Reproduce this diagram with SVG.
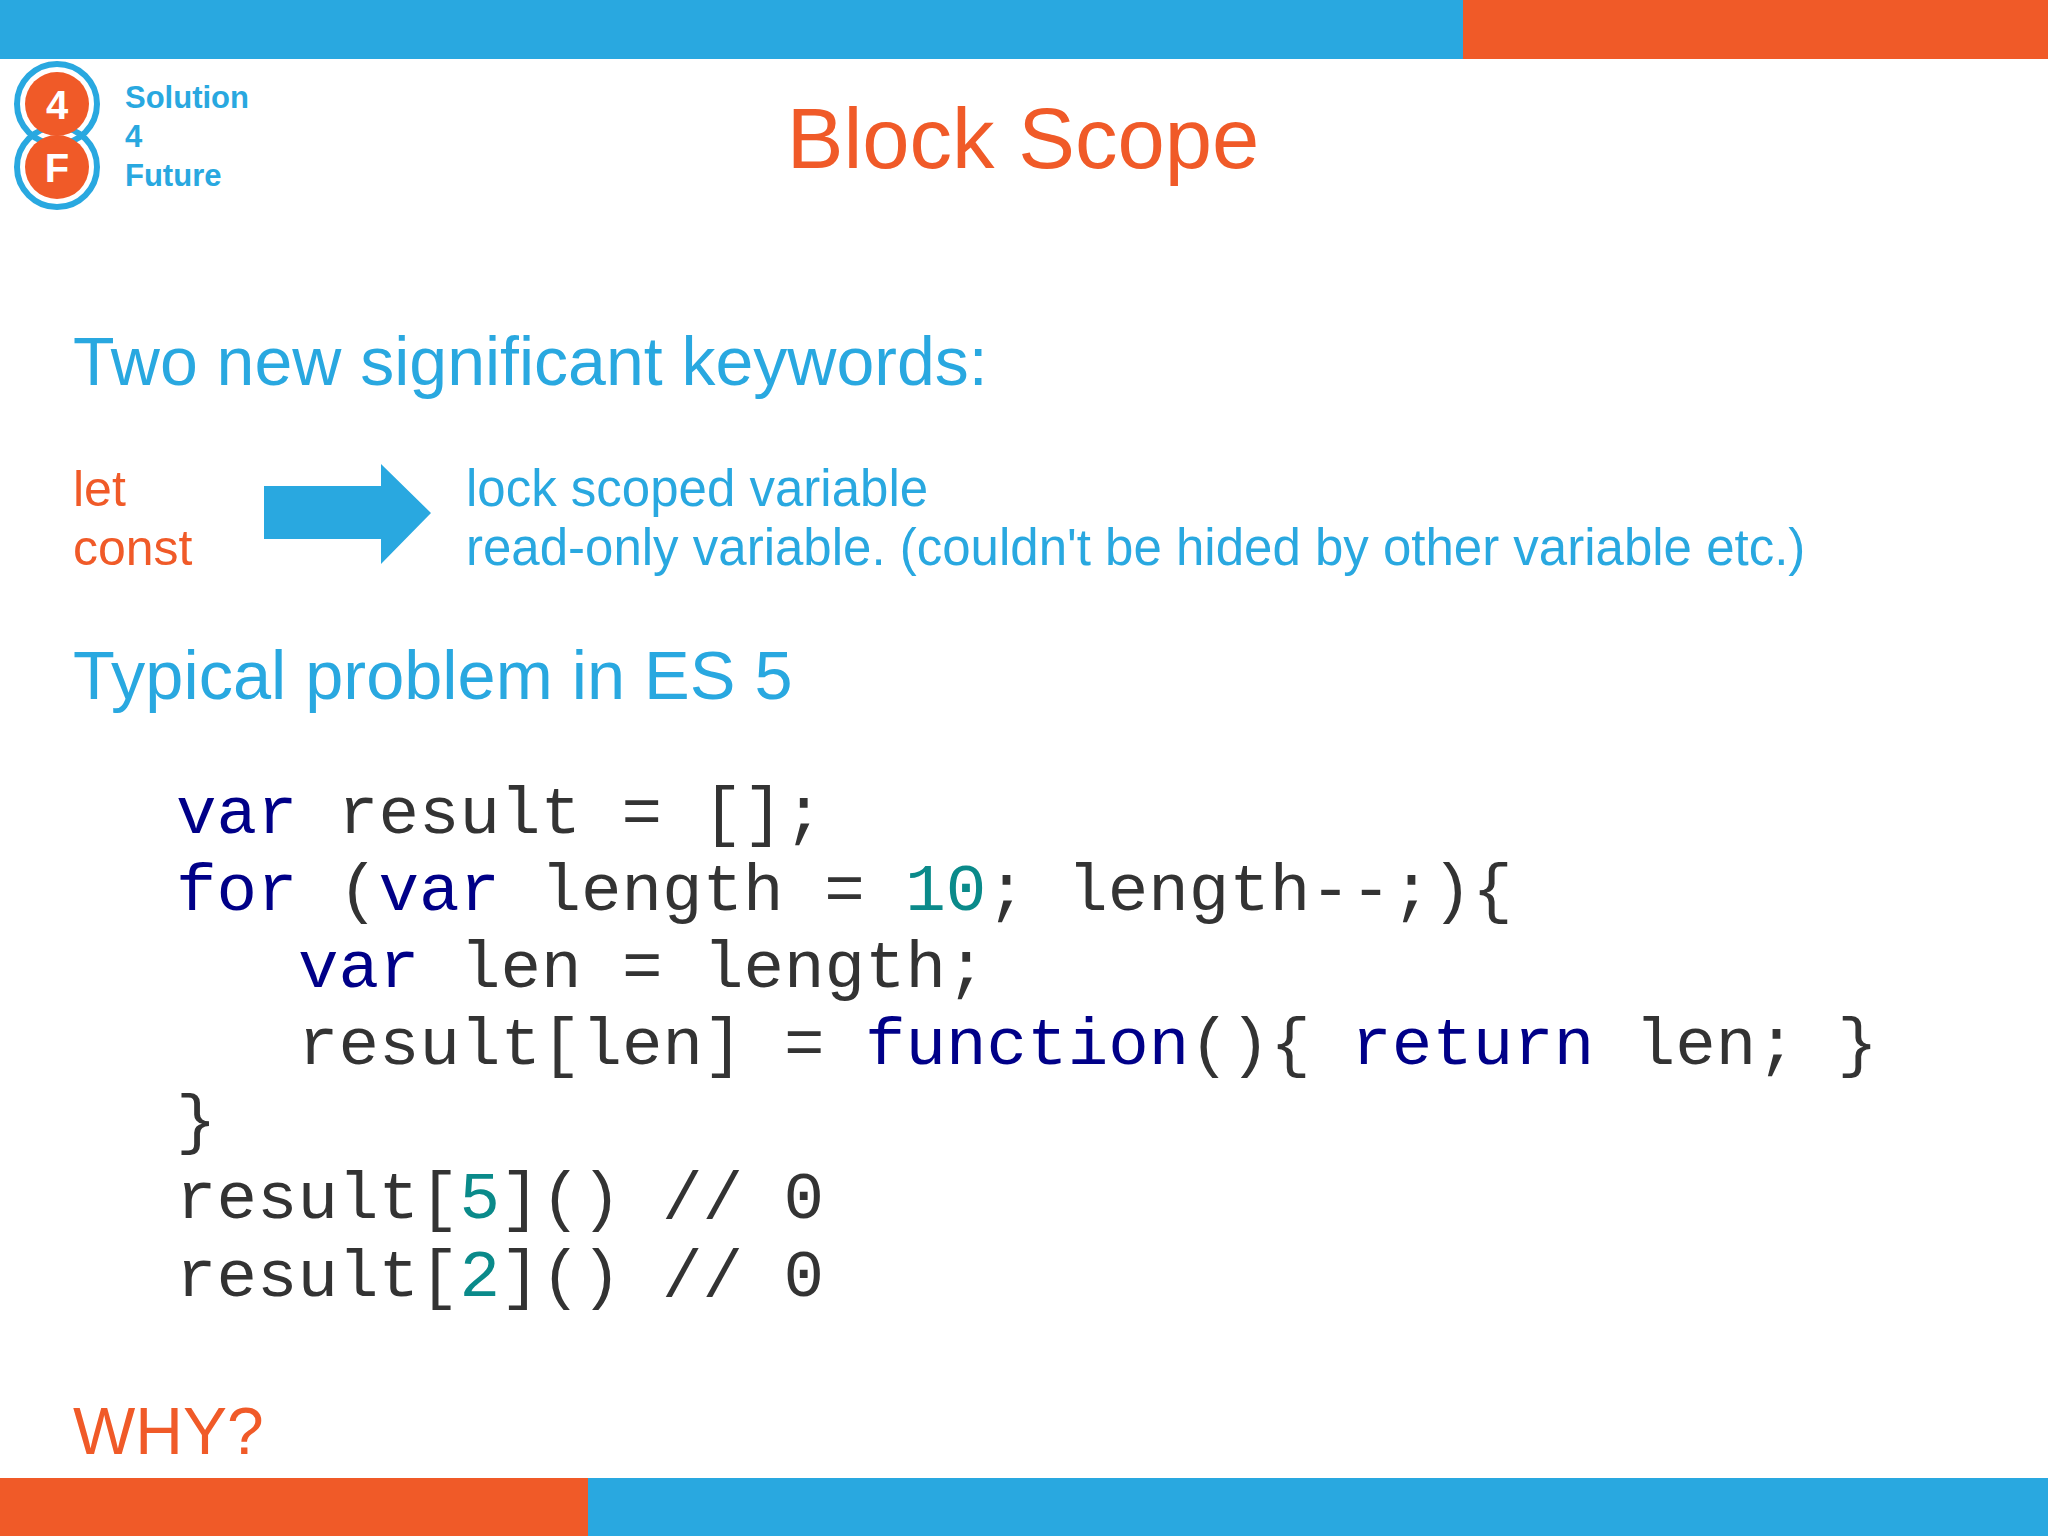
<svg xmlns="http://www.w3.org/2000/svg" width="2048" height="1536" viewBox="0 0 2048 1536">
<style>
.s{font-family:"Liberation Sans",Arial,sans-serif}
.b{fill:#29a8e0}.o{fill:#f05a28}
.c{font-family:"Liberation Mono","Courier New",monospace;font-size:67.5px;fill:#333}
.k{fill:#000088}.n{fill:#0a8a8a}
</style>
<rect width="2048" height="1536" fill="#fff"/>
<rect x="0" y="0" width="1463" height="59" fill="#29a8e0"/>
<rect x="1463" y="0" width="585" height="59" fill="#f05a28"/>
<rect x="0" y="1478" width="588" height="58" fill="#f05a28"/>
<rect x="588" y="1478" width="1460" height="58" fill="#29a8e0"/>
<g id="logo">
<circle cx="57" cy="104" r="40" fill="none" stroke="#29a8e0" stroke-width="6"/>
<circle cx="57" cy="167" r="40" fill="none" stroke="#29a8e0" stroke-width="6"/>
<circle cx="57" cy="104" r="32" fill="#f05a28"/>
<circle cx="57" cy="167" r="32" fill="#f05a28"/>
<text x="57" y="119" text-anchor="middle" class="s" font-size="40" font-weight="bold" fill="#fff">4</text>
<text x="57" y="182" text-anchor="middle" class="s" font-size="40" font-weight="bold" fill="#fff">F</text>
<text x="125" y="108" class="s b" font-size="31" font-weight="bold">Solution</text>
<text x="125" y="147" class="s b" font-size="31" font-weight="bold">4</text>
<text x="125" y="186" class="s b" font-size="31" font-weight="bold">Future</text>
</g>
<text x="1023" y="168" text-anchor="middle" class="s o" font-size="85">Block Scope</text>
<text x="73" y="385" class="s b" font-size="68">Two new significant keywords:</text>
<text x="73" y="506" class="s o" font-size="50">let</text>
<text x="73" y="565" class="s o" font-size="50">const</text>
<g id="arrow"><path d="M264 486 H381 V464 L431 513 L381 564 V539 H264 Z" fill="#29a8e0"/></g>
<text x="466" y="506" class="s b" font-size="51">lock scoped variable</text>
<text x="466" y="565" class="s b" font-size="51">read-only variable. (couldn't be hided by other variable etc.)</text>
<text x="73" y="699" class="s b" font-size="68.5">Typical problem in ES 5</text>
<text x="176" y="833" class="c"><tspan class="k">var</tspan> result = [];</text>
<text x="176" y="910" class="c"><tspan class="k">for</tspan> (<tspan class="k">var</tspan> length = <tspan class="n">10</tspan>; length--;){</text>
<text x="298" y="987" class="c"><tspan class="k">var</tspan> len = length;</text>
<text x="298" y="1064" class="c">result[len] = <tspan class="k">function</tspan>(){ <tspan class="k">return</tspan> len; }</text>
<text x="176" y="1141" class="c">}</text>
<text x="176" y="1218" class="c">result[<tspan class="n">5</tspan>]() // 0</text>
<text x="176" y="1296" class="c">result[<tspan class="n">2</tspan>]() // 0</text>
<text x="73" y="1454" class="s o" font-size="66">WHY?</text>
</svg>
